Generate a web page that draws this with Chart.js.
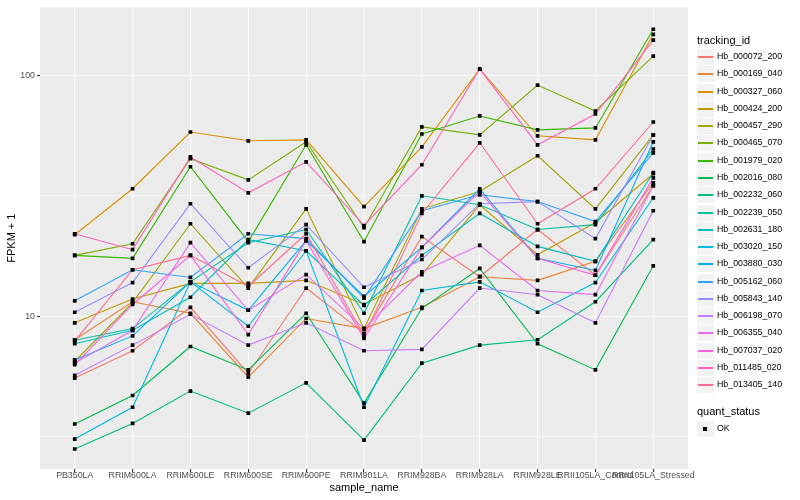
<!DOCTYPE html>
<html>
<head>
<meta charset="utf-8">
<script src="https://cdn.jsdelivr.net/npm/chart.js@4.4.1/dist/chart.umd.min.js"></script>
<style>
  body { margin: 0; background: #ffffff; font-family: "Liberation Sans", Arial, sans-serif; }
  #wrap { position: relative; width: 800px; height: 500px; }
  #chart { position: absolute; left: 0; top: 0; }
  .leg-title { position: absolute; left: 697px; font-size: 11px; color: #000; line-height: 13px; white-space: nowrap; }
  .leg-item { position: absolute; left: 697px; height: 17px; white-space: nowrap; }
  .leg-key { position: absolute; left: 0; top: 0; width: 17px; height: 16px; background: #f2f2f2; }
  .leg-line { position: absolute; left: 1px; width: 15px; top: 7px; height: 2px; }
  .leg-dot { position: absolute; left: 6px; top: 6px; width: 4px; height: 4px; background: #000; }
  .leg-text { position: absolute; left: 20px; top: 2px; font-size: 8.8px; line-height: 11px; color: #000; }
</style>
</head>
<body>
<div id="wrap">
  <canvas id="chart" width="800" height="500"></canvas>
  <div id="legend"></div>
</div>
<script>
const sampleNames = ["PB350LA", "RRIM600LA", "RRIM600LE", "RRIM600SE", "RRIM600PE", "RRIM901LA",
  "RRIM928BA", "RRIM928LA", "RRIM928LE", "RRII105LA_Control", "RRII105LA_Stressed"];

const trackingIds = ["Hb_000072_200", "Hb_000169_040", "Hb_000327_060", "Hb_000424_200", "Hb_000457_290",
  "Hb_000465_070", "Hb_001979_020", "Hb_002016_080", "Hb_002232_060", "Hb_002239_050",
  "Hb_002631_180", "Hb_003020_150", "Hb_003880_030", "Hb_005162_060", "Hb_005843_140",
  "Hb_006198_070", "Hb_006355_040", "Hb_007037_020", "Hb_011485_020", "Hb_013405_140"];

const seriesColors = ["#F8766D", "#EA8331", "#D89000", "#C09B00", "#A3A500", "#7CAE00", "#39B600",
  "#00BB4E", "#00BF7D", "#00C1A3", "#00BFC4", "#00BAE0", "#00B0F6", "#35A2FF", "#9590FF",
  "#C77CFF", "#E76BF3", "#FA62DB", "#FF62BC", "#FF6C91"];

// FPKM + 1 per sample, same order as sampleNames
const hb000072_200 = [5.55, 7.2, 10.9, 5.8, 13.1, 8.5, 21.4, 14.6, 22.9, 14.8, 34.8];
const hb000169_040 = [8.0, 11.5, 10.3, 5.6, 9.8, 8.9, 10.9, 14.6, 14.1, 16.9, 35.8];
const hb000327_060 = [21.8, 33.8, 58.1, 53.4, 53.9, 28.5, 50.4, 105.9, 56.0, 53.9, 147.6];
const hb000424_200 = [9.4, 11.8, 13.7, 13.7, 14.1, 11.2, 14.9, 29.0, 18.0, 24.5, 39.0];
const hb000457_290 = [6.5, 11.4, 24.2, 13.1, 27.9, 8.9, 27.9, 32.9, 46.3, 27.9, 56.5];
const hb000465_070 = [17.9, 20.0, 45.0, 36.8, 52.9, 23.3, 61.0, 56.5, 90.9, 71.0, 119.8];
const hb001979_020 = [17.9, 17.4, 41.7, 20.4, 51.4, 20.4, 57.0, 67.7, 59.3, 60.4, 154.9];
const hb002016_080 = [3.58, 4.7, 7.5, 6.0, 10.3, 4.37, 10.8, 15.8, 7.7, 6.0, 16.2];
const hb002232_060 = [2.82, 3.6, 4.9, 3.97, 5.3, 3.07, 6.4, 7.6, 8.0, 11.5, 20.8];
const hb002239_050 = [7.96, 8.9, 13.9, 20.2, 22.9, 10.3, 31.6, 29.0, 22.9, 24.0, 49.4];
const hb002631_180 = [7.7, 8.75, 12.0, 20.8, 18.7, 11.1, 17.9, 26.7, 19.5, 16.9, 39.4];
const hb003020_150 = [3.1, 4.2, 13.9, 9.1, 18.7, 4.2, 12.8, 13.9, 10.4, 13.8, 31.0];
const hb003880_030 = [6.6, 8.3, 13.9, 10.6, 20.6, 12.1, 19.3, 33.8, 17.4, 15.5, 52.9];
const hb005162_060 = [11.6, 15.6, 14.5, 22.0, 21.0, 11.9, 27.4, 31.9, 29.9, 24.7, 47.6];
const hb005843_140 = [10.4, 13.8, 29.3, 15.9, 24.0, 13.2, 17.2, 29.3, 29.9, 21.0, 56.5];
const hb006198_070 = [5.7, 7.6, 10.2, 7.6, 9.4, 7.2, 7.3, 13.1, 12.3, 9.4, 27.4];
const hb006355_040 = [6.4, 8.75, 20.2, 10.6, 14.9, 8.9, 15.3, 19.7, 12.8, 12.3, 34.8];
const hb007037_020 = [6.3, 11.2, 17.9, 8.4, 20.6, 8.1, 19.3, 32.9, 17.4, 14.8, 37.5];
const hb011485_020 = [22.0, 18.9, 45.8, 32.5, 43.7, 23.8, 42.5, 105.9, 51.4, 69.0, 139.5];
const hb013405_140 = [7.9, 15.6, 17.9, 13.3, 22.0, 8.3, 26.7, 52.4, 24.2, 33.8, 63.9];

const seriesValues = [hb000072_200, hb000169_040, hb000327_060, hb000424_200, hb000457_290,
  hb000465_070, hb001979_020, hb002016_080, hb002232_060, hb002239_050,
  hb002631_180, hb003020_150, hb003880_030, hb005162_060, hb005843_140,
  hb006198_070, hb006355_040, hb007037_020, hb011485_020, hb013405_140];

const yTickValues = [3.1623, 10, 31.623, 100];
const yTickLabels = ["", "10", "", "100"];
const yTickMajor = [false, true, false, true];

const quantStatus = ["OK"];

Chart.defaults.font.family = "'Liberation Sans', Arial, sans-serif";

const panelBackground = {
  id: "panelBackground",
  beforeDraw(chart) {
    const { ctx, chartArea } = chart;
    ctx.save();
    ctx.fillStyle = "#EBEBEB";
    ctx.fillRect(chartArea.left, chartArea.top, chartArea.right - chartArea.left, chartArea.bottom - chartArea.top);
    ctx.restore();
  },
};

function toPoints(values) {
  return values.map((v, i) => ({ x: i, y: v }));
}

const lineSets = seriesValues.map((values, i) => ({
  label: trackingIds[i],
  data: toPoints(values),
  borderColor: seriesColors[i],
  borderWidth: 1.1,
  pointRadius: 0,
  fill: false,
  tension: 0,
  order: -i,
}));

const pointSet = {
  label: quantStatus[0],
  data: seriesValues.flatMap(toPoints),
  showLine: false,
  pointStyle: "rect",
  pointRadius: 2.6,
  pointBackgroundColor: "#000000",
  pointBorderWidth: 0,
  order: -100,
};

new Chart(document.getElementById("chart"), {
  type: "line",
  data: { datasets: [...lineSets, pointSet] },
  options: {
    responsive: false,
    animation: false,
    events: [],
    layout: { padding: { left: 0, right: 112, top: 1, bottom: 0 } },
    plugins: { legend: { display: false }, tooltip: { enabled: false } },
    scales: {
      x: {
        type: "linear",
        min: -0.6,
        max: 10.6,
        afterBuildTicks: (scale) => {
          scale.ticks = sampleNames.map((_, i) => ({ value: i }));
        },
        afterFit: (scale) => { scale.height = 31; },
        border: { display: false },
        grid: { color: "#FFFFFF", lineWidth: 1.1, tickColor: "#333333", tickLength: 3 },
        ticks: {
          autoSkip: false,
          maxRotation: 0,
          minRotation: 0,
          padding: -2,
          color: "#4D4D4D",
          font: { size: 8.8 },
          callback: (v) => sampleNames[v],
        },
        title: { display: true, text: "sample_name", color: "#000000", font: { size: 11 }, padding: { top: 0, bottom: 5 } },
      },
      y: {
        type: "logarithmic",
        min: 2.33,
        max: 191,
        afterBuildTicks: (scale) => {
          scale.ticks = yTickValues.map((v) => ({ value: v }));
        },
        afterFit: (scale) => { scale.width = 40; },
        border: { display: false },
        grid: {
          color: "#FFFFFF",
          lineWidth: (c) => (yTickMajor[c.index] ? 1.1 : 0.55),
          tickColor: (c) => (yTickMajor[c.index] ? "#333333" : "rgba(0,0,0,0)"),
          tickLength: 3,
        },
        ticks: {
          padding: 2,
          color: "#4D4D4D",
          font: { size: 8.8 },
          callback: (v, i) => yTickLabels[i],
        },
        title: { display: true, text: "FPKM + 1", color: "#000000", font: { size: 11 }, padding: { top: 5, bottom: 0 } },
      },
    },
  },
  plugins: [panelBackground],
});

function buildLegend() {
  const legend = document.getElementById("legend");
  const rowH = 17.28;
  const firstRow = 49;

  const title = document.createElement("div");
  title.className = "leg-title";
  title.style.top = "34px";
  title.textContent = "tracking_id";
  legend.appendChild(title);

  trackingIds.forEach((id, i) => {
    const item = document.createElement("div");
    item.className = "leg-item";
    item.style.top = Math.round(firstRow + i * rowH) + "px";
    item.innerHTML = `<div class="leg-key"><div class="leg-line" style="background:${seriesColors[i]}"></div></div><div class="leg-text"></div>`;
    item.querySelector(".leg-text").textContent = id;
    legend.appendChild(item);
  });

  const title2 = document.createElement("div");
  title2.className = "leg-title";
  title2.style.top = "405px";
  title2.textContent = "quant_status";
  legend.appendChild(title2);

  quantStatus.forEach((s, i) => {
    const item = document.createElement("div");
    item.className = "leg-item";
    item.style.top = Math.round(421 + i * rowH) + "px";
    item.innerHTML = `<div class="leg-key"><div class="leg-dot"></div></div><div class="leg-text"></div>`;
    item.querySelector(".leg-text").textContent = s;
    legend.appendChild(item);
  });
}

buildLegend();
</script>
</body>
</html>
